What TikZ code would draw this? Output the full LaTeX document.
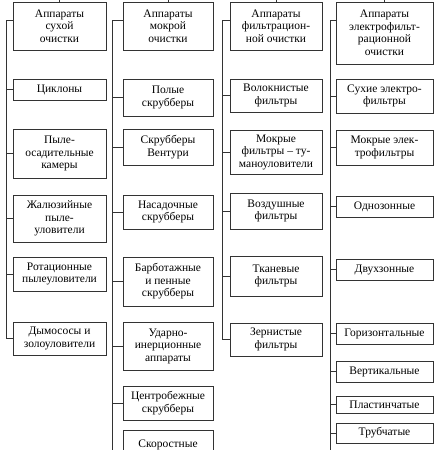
\documentclass[tikz,border=0pt]{standalone}
\usepackage{fontspec}
\setmainfont{Liberation Serif}
\begin{document}
\begin{tikzpicture}[x=1pt,y=-1pt,
  box/.style={draw=black!80, line width=0.6pt, align=center, inner sep=0pt,
    font=\fontsize{11.5pt}{12.5pt}\selectfont},
  ln/.style={draw=black!80, line width=0.6pt}]
\useasboundingbox (0,0) rectangle (440,450);

% dry cleaning
\node[box, minimum width=93pt, minimum height=48pt] (h1) at (59.5,26) {Аппараты\\сухой\\очистки};
\node[box, minimum width=93pt, minimum height=21pt] (a1) at (59.5,89.5) {Циклоны};
\node[box, minimum width=93pt, minimum height=49pt] (a2) at (59.5,153.5) {Пыле-\\осадительные\\камеры};
\node[box, minimum width=93pt, minimum height=47pt] (a3) at (59.5,218.5) {Жалюзийные\\пыле-\\уловители};
\node[box, minimum width=93pt, minimum height=34pt] (a4) at (59.5,274) {Ротационные\\пылеуловители};
\node[box, minimum width=93pt, minimum height=33pt] (a5) at (59.5,338.5) {Дымососы и\\золоуловители};

% wet cleaning
\node[box, minimum width=90pt, minimum height=48pt] (h2) at (168,26) {Аппараты\\мокрой\\очистки};
\node[box, minimum width=90pt, minimum height=37pt] (b1) at (168,97.5) {Полые\\скрубберы};
\node[box, minimum width=90pt, minimum height=36pt] (b2) at (168,147) {Скрубберы\\Вентури};
\node[box, minimum width=90pt, minimum height=34pt] (b3) at (168,212) {Насадочные\\скрубберы};
\node[box, minimum width=90pt, minimum height=49pt] (b4) at (168,281.5) {Барботажные\\и пенные\\скрубберы};
\node[box, minimum width=90pt, minimum height=48pt] (b5) at (168,346) {Ударно-\\инерционные\\аппараты};
\node[box, minimum width=90pt, minimum height=34pt] (b6) at (168,403) {Центробежные\\скрубберы};
\node[box, minimum width=90pt, minimum height=40pt] (b7) at (168,450) {Скоростные\\\vphantom{Сс}};

% filtration
\node[box, minimum width=92pt, minimum height=48pt] (h3) at (276,26) {Аппараты\\фильтрацион-\\ной очистки};
\node[box, minimum width=92pt, minimum height=33pt] (c1) at (276,95.5) {Волокнистые\\фильтры};
\node[box, minimum width=92pt, minimum height=44pt] (c2) at (276,152) {Мокрые\\фильтры – ту-\\маноуловители};
\node[box, minimum width=92pt, minimum height=36pt] (c3) at (276,211) {Воздушные\\фильтры};
\node[box, minimum width=92pt, minimum height=40pt] (c4) at (276,276) {Тканевые\\фильтры};
\node[box, minimum width=92pt, minimum height=33pt] (c5) at (276,339.5) {Зернистые\\фильтры};

% electrofiltration
\node[box, minimum width=97pt, minimum height=62pt] (h4) at (384.5,33) {Аппараты\\электрофильт-\\рационной\\очистки};
\node[box, minimum width=97pt, minimum height=34pt] (d1) at (384.5,96) {Сухие электро-\\фильтры};
\node[box, minimum width=97pt, minimum height=35pt] (d2) at (384.5,147.5) {Мокрые элек-\\трофильтры};
\node[box, minimum width=97pt, minimum height=21pt] (d3) at (384.5,206.5) {Однозонные};
\node[box, minimum width=97pt, minimum height=21pt] (d4) at (384.5,269.5) {Двухзонные};
\node[box, minimum width=97pt, minimum height=21pt] (d5) at (384.5,333.5) {Горизонтальные};
\node[box, minimum width=97pt, minimum height=21pt] (d6) at (384.5,371.5) {Вертикальные};
\node[box, minimum width=97pt, minimum height=17pt] (d7) at (384.5,404.5) {Пластинчатые};
\node[box, minimum width=97pt, minimum height=20pt] (d8) at (384.5,433) {Трубчатые};

% stubs to the parent above
\coordinate (t1) at (59.5,0);
\coordinate (t2) at (168,0);
\coordinate (t3) at (276,0);
\coordinate (t4) at (384.5,0);
\foreach \i in {1,...,4}
  \draw[ln] (t\i) -- (h\i.north);

% spines
\coordinate (s1) at (6,20);
\coordinate (s2) at (112,20);
\coordinate (s3) at (222,20);
\coordinate (s4) at (330,20);
\draw[ln] (s1) -- (s1 |- a5.west);
\draw[ln] (s2) -- (112,460);
\draw[ln] (s3) -- (s3 |- c5.west);
\draw[ln] (s4) -- (330,460);
\foreach \i in {1,...,4}
  \draw[ln] (s\i) -- (s\i -| h\i.west);

\foreach \n in {a1,a2,a3,a4,a5}
  \draw[ln] (s1 |- \n.west) -- (\n.west);
\foreach \n in {b1,b2,b3,b4,b5,b6,b7}
  \draw[ln] (s2 |- \n.west) -- (\n.west);
\foreach \n in {c1,c2,c3,c4,c5}
  \draw[ln] (s3 |- \n.west) -- (\n.west);
\foreach \n in {d1,d2,d3,d4,d5,d6,d7,d8}
  \draw[ln] (s4 |- \n.west) -- (\n.west);
\end{tikzpicture}
\end{document}
